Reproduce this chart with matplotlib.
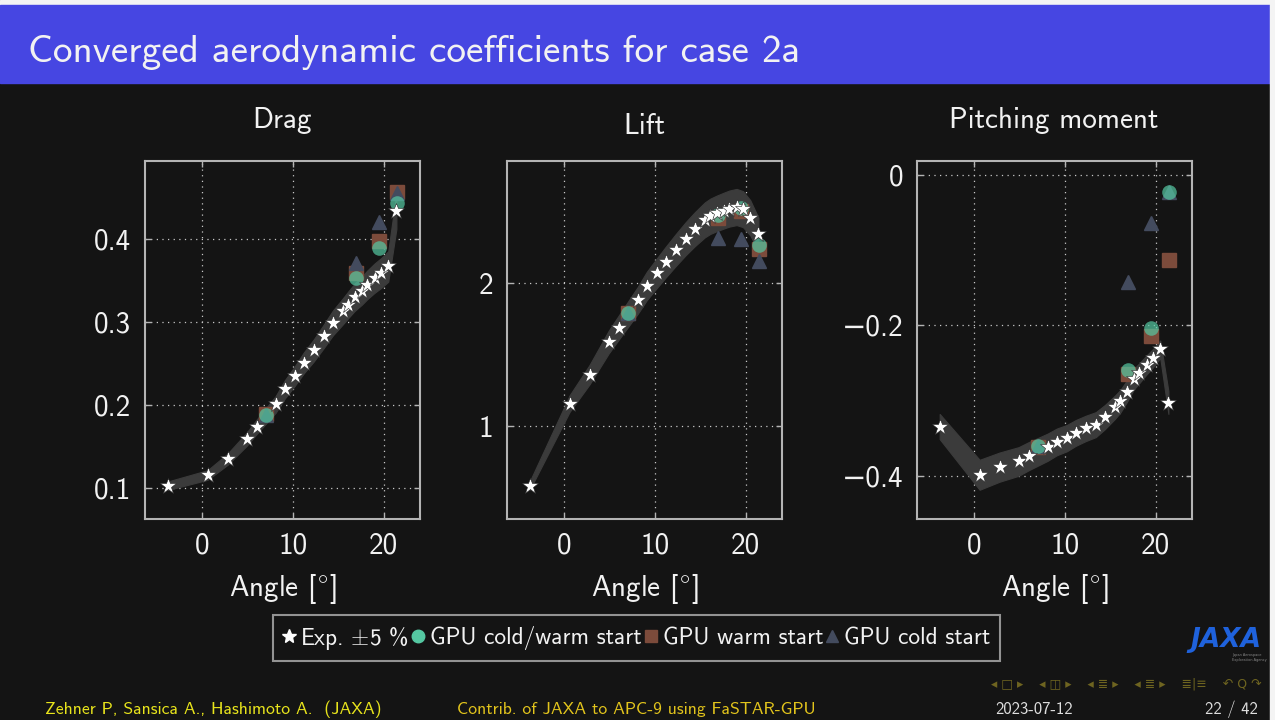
import matplotlib
matplotlib.use("Agg")
import matplotlib.pyplot as plt
from matplotlib.lines import Line2D
from matplotlib.patches import Rectangle

plt.rcParams['font.family'] = ['cmss10', 'DejaVu Sans']
plt.rcParams['axes.unicode_minus'] = True
plt.rcParams['mathtext.fontset'] = 'cm'

# Experiment (with +-5 % band) and GPU runs, case 2a
alpha_exp = [-3.8, 0.6, 2.8, 4.9, 6.0, 8.1, 9.1, 10.2, 11.2, 12.3, 13.4,
             14.4, 15.5, 16.1, 16.8, 17.6, 18.2, 19.0, 19.7, 20.5, 21.4]
cd_exp = [0.103, 0.116, 0.135, 0.159, 0.174, 0.201, 0.219, 0.235, 0.251, 0.266, 0.283,
          0.299, 0.313, 0.321, 0.330, 0.338, 0.345, 0.353, 0.359, 0.367, 0.434]
cl_exp = [0.584, 1.159, 1.362, 1.589, 1.690, 1.881, 1.982, 2.071, 2.150, 2.234, 2.314,
          2.380, 2.445, 2.470, 2.490, 2.510, 2.524, 2.535, 2.520, 2.460, 2.343]
cm_exp = [-0.3345, -0.3987, -0.3885, -0.381, -0.374, -0.362, -0.355, -0.350, -0.343,
          -0.337, -0.332, -0.322, -0.309, -0.301, -0.288, -0.2715, -0.2635, -0.2525,
          -0.2436, -0.2317, -0.3026]

alpha_gpu = [7.0, 17.0, 19.5, 21.5]
cd_coldwarm = [0.188, 0.353, 0.389, 0.444]
cd_warm = [0.189, 0.359, 0.398, 0.457]
cd_cold = [0.188, 0.371, 0.421, 0.455]
cl_coldwarm = [1.795, 2.480, 2.530, 2.270]
cl_warm = [1.790, 2.460, 2.507, 2.238]
cl_cold = [1.795, 2.320, 2.313, 2.156]
cm_coldwarm = [-0.361, -0.259, -0.204, -0.022]
cm_warm = [-0.362, -0.2645, -0.214, -0.113]
cm_cold = [-0.361, -0.142, -0.064, -0.022]

titles = ['Drag', 'Lift', 'Pitching moment']
x_ticks = [0, 10, 20]
cd_ticks = [0.1, 0.2, 0.3, 0.4]
cl_ticks = [1, 2]
cm_ticks = [-0.4, -0.2, 0]
cm_ticklabels = ['\u22120.4', '\u22120.2', '0']

BG = '#141414'
FRAME = '#b4b4b4'
C_COLDWARM = '#55c8a2'
C_WARM = '#7c4b3b'
C_COLD = '#434b5e'
C_BAND = '#3b3b3b'

W, H = 1275, 720
fig = plt.figure(figsize=(W / 100, H / 100), dpi=100, facecolor=BG)

# slide header
fig.patches.append(Rectangle((0, 1 - 5 / H), 1, 5 / H, transform=fig.transFigure,
                             color='#f4f4f4', zorder=0))
fig.patches.append(Rectangle((0, 1 - 83 / H), 1, 78 / H, transform=fig.transFigure,
                             color='#4646e2', zorder=1))
fig.patches.append(Rectangle((1 - 5 / W, 0), 5 / W, 1, transform=fig.transFigure,
                             color='#f4f4f4', zorder=2))
fig.text(28 / W, 1 - 62 / H, 'Converged aerodynamic coefficients for case 2a',
         color='#f2f2f2', fontsize=28.2, va='baseline', ha='left')


def panel(left_px, exp_vals, coldwarm, warm, cold, ylim, yticks, title, title_base):
    ax = fig.add_axes([left_px / W, 1 - 519 / H, 275 / W, 358 / H])
    ax.set_facecolor(BG)
    lo = [0.95 * v for v in exp_vals]
    hi = [1.05 * v for v in exp_vals]
    ax.fill_between(alpha_exp, lo, hi, color=C_BAND, lw=0.8, edgecolor=C_BAND, zorder=2)
    ax.plot(alpha_gpu, warm, 's', color=C_WARM, ms=9.5, zorder=3)
    ax.plot(alpha_gpu, cold, '^', color=C_COLD, ms=10, zorder=4)
    ax.plot(alpha_gpu, coldwarm, 'o', color=C_COLDWARM, ms=10.5, alpha=0.7, mew=0, zorder=5)
    ax.plot(alpha_exp, exp_vals, '*', color='white', ms=12, mec='#222222', mew=0.4, zorder=6)

    ax.set_xlim(-6.3, 24.0)
    ax.set_ylim(*ylim)
    ax.set_xticks(x_ticks)
    ax.set_yticks(yticks)
    ax.grid(True, color='#c8c8c8', lw=0.9, ls=(0, (1, 3.5)))
    ax.set_axisbelow(True)
    for s in ax.spines.values():
        s.set_color(FRAME)
        s.set_linewidth(1.5)
    ax.tick_params(direction='in', length=4, width=1, color=FRAME, top=True, right=True,
                   labelsize=21, labelcolor='#f2f2f2', pad=10)
    ax.set_xlabel(r'Angle [$^{\circ}$]', color='#f2f2f2', fontsize=21, labelpad=8)
    fig.text((left_px + 137) / W, 1 - title_base / H, title, color='#f2f2f2',
             fontsize=21, ha='center', va='baseline')
    return ax


ax_d = panel(145, cd_exp, cd_coldwarm, cd_warm, cd_cold, (0.063, 0.494), cd_ticks,
             titles[0], 128)
ax_l = panel(507, cl_exp, cl_coldwarm, cl_warm, cl_cold, (0.351, 2.857), cl_ticks,
             titles[1], 134)
ax_m = panel(917, cm_exp, cm_coldwarm, cm_warm, cm_cold, (-0.4575, 0.0186), cm_ticks,
             titles[2], 128)
ax_m.set_yticklabels(cm_ticklabels)

handles = [
    Line2D([], [], ls='none', marker='*', color='white', ms=10),
    Line2D([], [], ls='none', marker='o', color=C_COLDWARM, ms=9),
    Line2D([], [], ls='none', marker='s', color=C_WARM, ms=9),
    Line2D([], [], ls='none', marker='^', color=C_COLD, ms=9),
]
labels = [r'Exp. $\pm$5 %', 'GPU cold/warm start', 'GPU warm start', 'GPU cold start']
leg = fig.legend(handles, labels, loc='center', bbox_to_anchor=(636.5 / W, 1 - 638 / H),
                 ncol=4, fontsize=16.8, frameon=True, fancybox=False, handlelength=0.5,
                 handletextpad=0.25, columnspacing=0.15, borderpad=0.4, labelcolor='#f2f2f2')
leg.get_frame().set_facecolor(BG)
leg.get_frame().set_edgecolor(FRAME)
leg.get_frame().set_linewidth(1.5)

# JAXA logo
fig.text(1226 / W, 1 - 647 / H, 'JAXA', color='#1f62dc', fontsize=19, style='italic',
         fontweight='bold', family='DejaVu Sans', ha='center', va='baseline')
fig.text(1232 / W, 1 - 661 / H, 'Japan Aerospace\nExploration Agency', color='#888888',
         fontsize=2.5, family='DejaVu Sans', ha='left', va='baseline')

# footer
fig.text(45 / W, 1 - 714 / H, 'Zehner P, Sansica A., Hashimoto A.  (JAXA)',
         color='#e8e41c', fontsize=12.7, ha='left', va='baseline')
fig.text(457 / W, 1 - 714 / H, 'Contrib. of JAXA to APC-9 using FaSTAR-GPU',
         color='#e2c41c', fontsize=12.7, ha='left', va='baseline')
fig.text(995 / W, 1 - 714 / H, '2023-07-12', color='#e0e0e0', fontsize=12,
         ha='left', va='baseline')
fig.text(1258 / W, 1 - 714 / H, '22 / 42', color='#e0e0e0', fontsize=12,
         ha='right', va='baseline')
fig.text(1262 / W, 1 - 688 / H,
         '\u25c2 \u25a1 \u25b8    \u25c2 \u25eb \u25b8    \u25c2 \u2263 \u25b8    '
         '\u25c2 \u2263 \u25b8    \u2263|\u2261    \u21b6 Q \u21b7',
         color='#6e6420', fontsize=9, family='DejaVu Sans', ha='right', va='baseline')

fig.savefig('out.png', dpi=100, facecolor=BG)
